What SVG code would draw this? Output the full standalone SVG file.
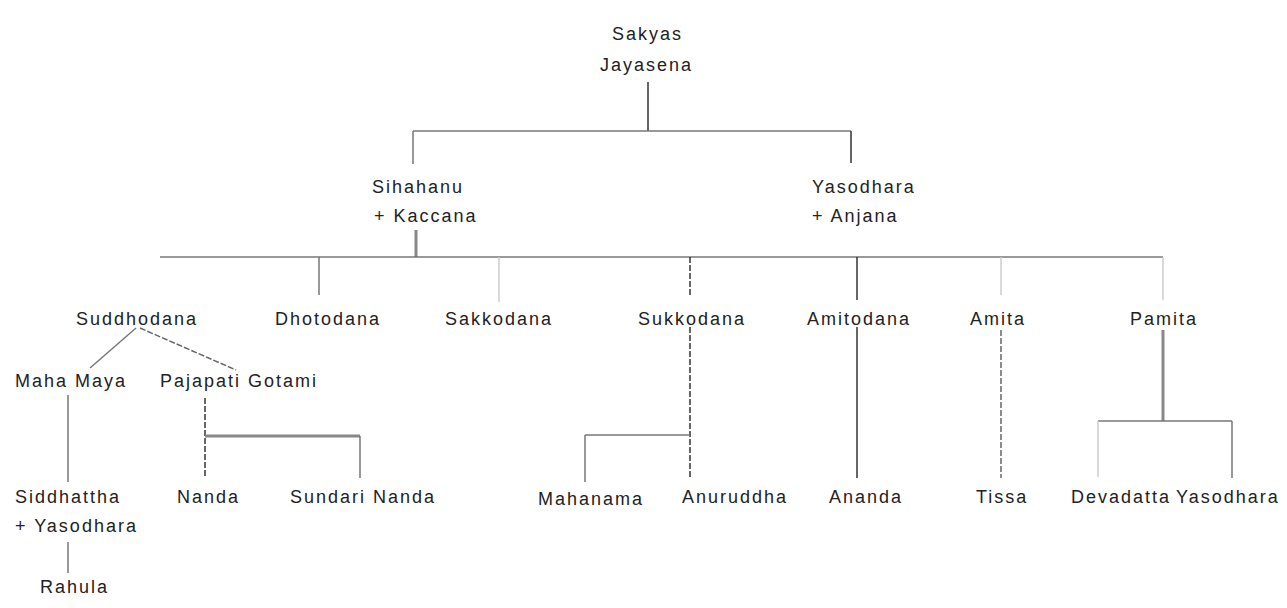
<svg xmlns="http://www.w3.org/2000/svg" width="1287" height="608" viewBox="0 0 1287 608">
<style>
text{font-family:"Liberation Sans",Arial,sans-serif;font-size:18px;letter-spacing:2px;fill:#222}
.d{stroke:#333;stroke-width:1.5;fill:none}
.g{stroke:#777;stroke-width:1.5;fill:none}
.l{stroke:#ccc;stroke-width:1.5;fill:none}
.t{stroke:#888;stroke-width:3;fill:none}
.ds{stroke:#333;stroke-width:1.5;fill:none;stroke-dasharray:6 2}
.dg{stroke:#666;stroke-width:1.5;fill:none;stroke-dasharray:6 2}
</style>
<rect width="1287" height="608" fill="#fff"/>
<g id="connectors">
<path class="d" d="M648 82V131"/>
<path class="g" d="M413 131H851"/>
<path class="g" d="M413 131V164"/>
<path class="d" d="M851 131V163"/>
<path class="t" d="M416 230V257"/>
<path class="g" d="M160 257H1163"/>
<path class="g" d="M319 257V295"/>
<path class="l" d="M499 257V302"/>
<path class="ds" d="M690 257V295"/>
<path class="d" d="M857 257V300"/>
<path class="l" d="M1001 257V295"/>
<path class="l" d="M1163 257V300"/>
<path class="g" d="M136 328L90 368"/>
<path class="dg" d="M140 328L236 370"/>
<path class="g" d="M68 395V482"/>
<path class="ds" d="M205 398V478"/>
<path class="t" d="M205 436H360"/>
<path class="g" d="M360 436V478"/>
<path class="g" d="M68 542V573"/>
<path class="ds" d="M690 327V478"/>
<path class="g" d="M585 435H690"/>
<path class="g" d="M585 435V482"/>
<path class="d" d="M857 327V478"/>
<path class="dg" d="M1001 330V478"/>
<path class="t" d="M1163 330V421"/>
<path class="g" d="M1098 421H1232"/>
<path class="l" d="M1098 421V477"/>
<path class="g" d="M1232 421V478"/>
</g>
<g id="sakyas"><text x="612" y="40">Sakyas</text><text x="600" y="71">Jayasena</text></g>
<g id="sihahanu"><text x="372" y="193">Sihahanu</text><text x="374" y="222">+ Kaccana</text></g>
<g id="yasodhara-anjana"><text x="812" y="193">Yasodhara</text><text x="812" y="222">+ Anjana</text></g>
<g id="suddhodana"><text x="76" y="325">Suddhodana</text></g>
<g id="dhotodana"><text x="275" y="325">Dhotodana</text></g>
<g id="sakkodana"><text x="445" y="325">Sakkodana</text></g>
<g id="sukkodana"><text x="638" y="325">Sukkodana</text></g>
<g id="amitodana"><text x="807" y="325">Amitodana</text></g>
<g id="amita"><text x="970" y="325">Amita</text></g>
<g id="pamita"><text x="1130" y="325">Pamita</text></g>
<g id="mahamaya"><text x="15" y="387">Maha Maya</text></g>
<g id="pajapati"><text x="160" y="387">Pajapati Gotami</text></g>
<g id="siddhattha"><text x="15" y="503">Siddhattha</text><text x="15" y="532">+ Yasodhara</text></g>
<g id="nanda"><text x="177" y="503">Nanda</text></g>
<g id="sundari"><text x="290" y="503">Sundari Nanda</text></g>
<g id="mahanama"><text x="538" y="505">Mahanama</text></g>
<g id="anuruddha"><text x="682" y="503">Anuruddha</text></g>
<g id="ananda"><text x="829" y="503">Ananda</text></g>
<g id="tissa"><text x="976" y="503">Tissa</text></g>
<g id="devadatta"><text x="1071" y="503">Devadatta</text></g>
<g id="yasodhara2"><text x="1176" y="503">Yasodhara</text></g>
<g id="rahula"><text x="40" y="593">Rahula</text></g>
</svg>
